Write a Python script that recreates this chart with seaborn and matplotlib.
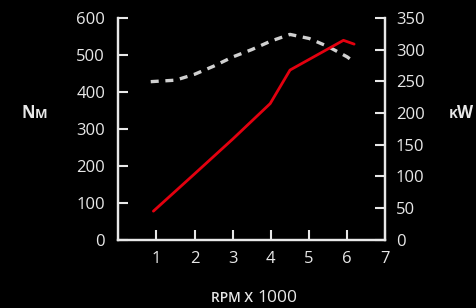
import matplotlib
matplotlib.use("Agg")
import matplotlib.pyplot as plt
import seaborn as sns
import pandas as pd

# rpm (x1000) vs torque (Nm, dashed) and power (kW, red)
torque_rpm = [0.85, 1.5, 2.0, 2.5, 3.0, 3.5, 4.0, 4.5, 5.0, 5.5, 6.0, 6.13]
torque_nm = [428, 432, 448, 470, 495, 515, 538, 556, 545, 523, 495, 485]

power_rpm = [0.92, 2.0, 3.0, 3.98, 4.5, 5.9, 6.18]
power_kw = [45, 104, 159, 215, 268, 315, 309]

x_ticks = [1, 2, 3, 4, 5, 6, 7]
nm_ticks = [0, 100, 200, 300, 400, 500, 600]
kw_ticks = [0, 50, 100, 150, 200, 250, 300, 350]

fg = "#e8e8e8"
sns.set_theme(style="dark", rc={
    "figure.facecolor": "black",
    "axes.facecolor": "black",
    "axes.edgecolor": fg,
    "xtick.color": fg,
    "ytick.color": fg,
    "text.color": fg,
})
plt.rcParams["font.family"] = ["Open Sans", "DejaVu Sans"]

torque_df = pd.DataFrame({"rpm": torque_rpm, "nm": torque_nm})
power_df = pd.DataFrame({"rpm": power_rpm, "kw": power_kw})

fig = plt.figure(figsize=(4.77, 3.08), dpi=100)
ax = fig.add_axes([0.248, 0.222, 0.560, 0.719])
ax2 = ax.twinx()

sns.lineplot(data=torque_df, x="rpm", y="nm", ax=ax, color="#d0d0d0",
             linewidth=2.4, linestyle=(0, (2.4, 2.0)))
sns.lineplot(data=power_df, x="rpm", y="kw", ax=ax2, color="#e3000f",
             linewidth=2.0)

ax.set_xlim(0, 7)
ax.set_ylim(0, 600)
ax2.set_ylim(0, 350)
ax.set_xticks(x_ticks)
ax.set_yticks(nm_ticks)
ax2.set_yticks(kw_ticks)
ax.set_xlabel("")
ax.set_ylabel("")
ax2.set_ylabel("")

for a in (ax, ax2):
    a.grid(False)
    a.spines["top"].set_visible(False)
    for s in ("left", "bottom", "right"):
        a.spines[s].set_color(fg)
        a.spines[s].set_linewidth(1.6)

ax.tick_params(axis="x", direction="in", length=7.5, width=1.5, pad=8.5,
               labelsize=12, colors=fg, bottom=True)
ax.tick_params(axis="y", direction="in", length=7.5, width=1.5, pad=9.5,
               labelsize=12, colors=fg, left=True)
ax2.tick_params(axis="y", direction="in", length=7.5, width=1.5, pad=7.5,
                labelsize=12, colors=fg, right=True)

# small-caps style labels, pieces share a baseline
unit_base = 1 - 118.5 / 308
x_base = 1 - 302 / 308
fig.text(22 / 477, unit_base, "N", fontsize=12, fontweight="bold",
         va="baseline", ha="left", color=fg)
fig.text(35 / 477, unit_base, "M", fontsize=9.5, fontweight="bold",
         va="baseline", ha="left", color=fg)
fig.text(449 / 477, unit_base, "K", fontsize=9.5, fontweight="bold",
         va="baseline", ha="left", color=fg)
fig.text(457.5 / 477, unit_base, "W", fontsize=12, fontweight="bold",
         va="baseline", ha="left", color=fg)
fig.text(253 / 477, x_base, "RPM X", fontsize=10, fontweight="semibold",
         va="baseline", ha="right", color=fg)
fig.text(257 / 477, x_base, "1000", fontsize=12.5,
         va="baseline", ha="left", color=fg)

fig.savefig("out.png", dpi=100, facecolor="black")
